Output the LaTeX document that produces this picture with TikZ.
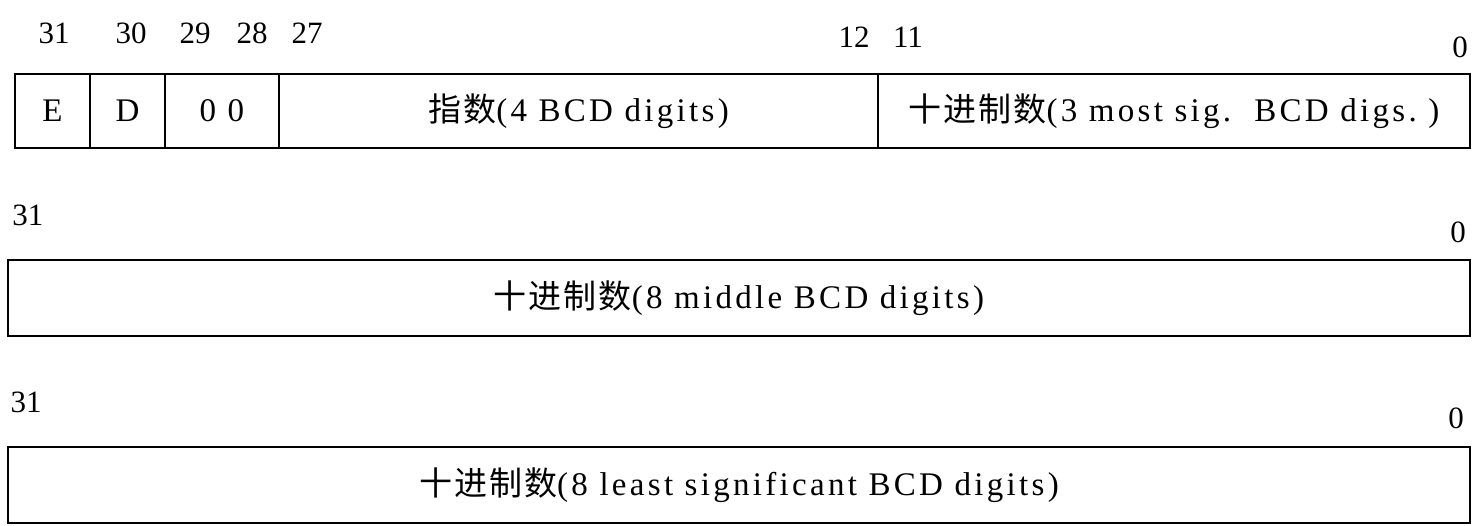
\documentclass[tikz,border=0pt]{standalone}
\usepackage{fontspec}
\setmainfont{Liberation Serif}[LetterSpace=10]
\newfontfamily\numfont{Liberation Serif}
\newfontfamily\cjk{Noto Sans CJK SC}[LetterSpace=6]
\newcommand\zh[1]{{\cjk\fontsize{33}{38}\selectfont #1}}
\begin{document}
\begin{tikzpicture}[x=1pt,y=-1pt,
  field/.style={draw, line width=2.6pt, inner sep=0pt, outer sep=0pt, anchor=north west,
    font=\fontsize{33}{38}\selectfont},
  row1/.style={field, minimum height=74pt},
  rowwide/.style={field, minimum height=76pt, minimum width=1462pt},
  bitnum/.style={inner sep=0pt, font=\numfont\fontsize{31}{36}\selectfont}]
\useasboundingbox (0,0) rectangle (1473,525);
% row 1
\node[row1, minimum width=75pt]  (E)   at (15,74)  {E};
\node[row1, minimum width=75pt]  (D)   at (90,74)  {D};
\node[row1, minimum width=114pt] (Z)   at (165,74) {0 0};
\node[row1, minimum width=599pt] (EXP) at (279,74) {\zh{指数}(4 BCD digits)};
\node[row1, minimum width=592pt] (MS)  at (878,74) {\zh{十进制数}(3 most sig.\ \ BCD digs.\ )};
\node[bitnum] (b31a) at (54,33)   {31};
\node[bitnum] (b30)  at (131,33)  {30};
\node[bitnum] (b29)  at (195,33)  {29};
\node[bitnum] (b28)  at (252,33)  {28};
\node[bitnum] (b27)  at (307,33)  {27};
\node[bitnum] (b12)  at (854,37)  {12};
\node[bitnum] (b11)  at (908,37)  {11};
\node[bitnum] (b0a)  at (1460,47) {0};
% row 2
\node[rowwide] (MID) at (8,260) {\zh{十进制数}(8 middle BCD digits)};
\node[bitnum] (b31b) at (28,215)   {31};
\node[bitnum] (b0b)  at (1458,232) {0};
% row 3
\node[rowwide] (LS) at (8,447) {\zh{十进制数}(8 least significant BCD digits)};
\node[bitnum] (b31c) at (26,402)   {31};
\node[bitnum] (b0c)  at (1456,418) {0};
\end{tikzpicture}
\end{document}
